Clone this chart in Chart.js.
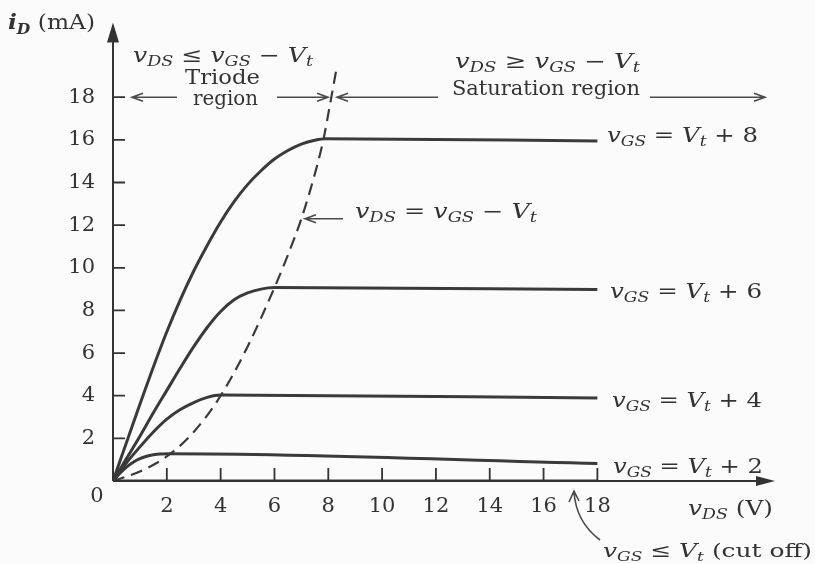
<!DOCTYPE html>
<html>
<head>
<meta charset="utf-8">
<script src="https://cdn.jsdelivr.net/npm/chart.js@4.4.0/dist/chart.umd.min.js"></script>
<style>
  html, body { margin: 0; padding: 0; background: #fbfbfb; }
</style>
</head>
<body>
<canvas id="myChart" width="815" height="564"></canvas>
<script>
// drain characteristic (vDS in V, iD in mA)
const vds8 = [0, 0.5, 1, 1.5, 2, 2.5, 3, 3.5, 4, 4.5, 5, 5.5, 6, 6.5, 7, 7.5, 7.9, 18];
const id8  = [0, 1.8, 3.6, 5.35, 7.0, 8.5, 9.85, 11.05, 12.15, 13.1, 13.9, 14.55, 15.1, 15.5, 15.8, 15.98, 16.05, 15.95];

const vds6 = [0, 0.5, 1, 1.5, 2, 2.5, 3, 3.5, 4, 4.5, 5, 5.5, 6, 18];
const id6  = [0, 1.05, 2.1, 3.2, 4.25, 5.3, 6.3, 7.2, 7.95, 8.5, 8.82, 9.0, 9.07, 8.98];

const vds4 = [0, 0.5, 1, 1.5, 2, 2.5, 3, 3.5, 4, 18];
const id4  = [0, 0.85, 1.6, 2.3, 2.9, 3.35, 3.68, 3.92, 4.03, 3.89];

const vds2 = [0, 0.25, 0.5, 0.75, 1, 1.25, 1.5, 1.75, 2.1, 18];
const id2  = [0, 0.35, 0.65, 0.88, 1.05, 1.16, 1.23, 1.27, 1.28, 0.82];

// boundary vDS = vGS - Vt
const vdsEdge = [0, 1, 2, 3, 4, 5, 6, 6.5, 7, 7.5, 7.8, 8.07, 8.3];
const idEdge  = [0, 0.45, 1.15, 2.3, 4.0, 6.3, 9.07, 10.6, 12.3, 14.4, 15.9, 17.7, 19.3];

// cut off
const vdsOff = [0, 18];
const idOff  = [0, 0];

const xTicks = [2, 4, 6, 8, 10, 12, 14, 16, 18];
const yTicks = [2, 4, 6, 8, 10, 12, 14, 16, 18];
const xMax = 24.6;
const yMax = 21.5;

const ink = '#333';
const serif = '"DejaVu Serif", serif';

function pts(xs, ys) {
  return xs.map(function (v, i) { return { x: v, y: ys[i] }; });
}

function curve(label, xs, ys) {
  return {
    label: label,
    data: pts(xs, ys),
    borderColor: '#3a3a3a',
    borderWidth: 3,
    pointRadius: 0,
    cubicInterpolationMode: 'monotone',
    fill: false
  };
}

// text with italic letters and subscripts, stretched to a width
function rich(ctx, parts, x, y, size, width) {
  function fontFor(st) {
    const pre = st === 'n' ? '' : (st === 'b' || st === 'sb') ? 'italic bold ' : 'italic ';
    const fs = (st === 's' || st === 'sb') ? Math.round(size * 0.68) : size;
    return pre + fs + 'px ' + serif;
  }
  let w = 0;
  parts.forEach(function (p) { ctx.font = fontFor(p[1]); w += ctx.measureText(p[0]).width; });
  const sx = width ? width / w : 1;
  ctx.save();
  ctx.translate(x, y);
  ctx.scale(sx, 1);
  ctx.fillStyle = ink;
  ctx.textAlign = 'left';
  ctx.textBaseline = 'alphabetic';
  let cx = 0;
  parts.forEach(function (p) {
    ctx.font = fontFor(p[1]);
    ctx.fillText(p[0], cx, (p[1] === 's' || p[1] === 'sb') ? size * 0.22 : 0);
    cx += ctx.measureText(p[0]).width;
  });
  ctx.restore();
}

function vgsLabel(n) {
  return [['v', 'i'], ['GS', 's'], [' = ', 'n'], ['V', 'i'], ['t', 's'], [' + ' + n, 'n']];
}

function openArrow(ctx, xFrom, xTo, y) {
  const d = xTo > xFrom ? -1 : 1;
  ctx.beginPath();
  ctx.moveTo(xFrom, y);
  ctx.lineTo(xTo, y);
  ctx.moveTo(xTo + d * 11, y - 4);
  ctx.lineTo(xTo, y);
  ctx.lineTo(xTo + d * 11, y + 4);
  ctx.stroke();
}

const decor = {
  id: 'decor',
  afterDatasetsDraw: function (chart) {
    const ctx = chart.ctx;
    const xs = chart.scales.x;
    const ys = chart.scales.y;
    const x0 = xs.getPixelForValue(0);
    const y0 = ys.getPixelForValue(0);
    const top = chart.chartArea.top;
    const right = chart.chartArea.right;

    ctx.save();
    ctx.strokeStyle = '#333';
    ctx.fillStyle = '#333';
    ctx.lineWidth = 2;

    // axes
    ctx.beginPath();
    ctx.moveTo(x0, y0);
    ctx.lineTo(x0, top + 10);
    ctx.moveTo(x0, y0);
    ctx.lineTo(right - 10, y0);
    ctx.stroke();
    ctx.beginPath();
    ctx.moveTo(x0, top);
    ctx.lineTo(x0 - 6, top + 20);
    ctx.lineTo(x0 + 6, top + 20);
    ctx.closePath();
    ctx.fill();
    ctx.beginPath();
    ctx.moveTo(right, y0);
    ctx.lineTo(right - 19, y0 - 5);
    ctx.lineTo(right - 19, y0 + 5);
    ctx.closePath();
    ctx.fill();

    // inner tick marks
    ctx.lineWidth = 1.8;
    ctx.beginPath();
    yTicks.forEach(function (v) {
      const p = ys.getPixelForValue(v);
      ctx.moveTo(x0, p);
      ctx.lineTo(x0 + 12, p);
    });
    xTicks.forEach(function (v) {
      const p = xs.getPixelForValue(v);
      ctx.moveTo(p, y0);
      ctx.lineTo(p, y0 - 13);
    });
    ctx.stroke();

    // region arrows along the 18 mA line
    const y18 = ys.getPixelForValue(18);
    ctx.lineWidth = 1.6;
    ctx.strokeStyle = '#4a4a4a';
    openArrow(ctx, 177, 132, y18);
    openArrow(ctx, 277, 328, y18);
    openArrow(ctx, 438, 337, y18);
    openArrow(ctx, 650, 765, y18);
    // pointer to the dashed boundary
    openArrow(ctx, 343, 305, ys.getPixelForValue(12.3));

    // cut off pointer
    ctx.beginPath();
    ctx.moveTo(600, 540);
    ctx.quadraticCurveTo(576, 522, 574, 492);
    ctx.moveTo(569, 502);
    ctx.lineTo(574, 491);
    ctx.lineTo(579, 501);
    ctx.stroke();

    // origin label
    ctx.fillStyle = ink;
    ctx.font = '21px ' + serif;
    ctx.textAlign = 'center';
    ctx.textBaseline = 'middle';
    ctx.fillText('0', 97, 497);

    // texts
    rich(ctx, [['i', 'b'], ['D', 'sb'], [' (mA)', 'n']], 8, 29, 21, 87);
    rich(ctx, [['v', 'i'], ['DS', 's'], [' \u2264 ', 'n'], ['v', 'i'], ['GS', 's'], [' \u2212 ', 'n'], ['V', 'i'], ['t', 's']], 133, 62, 20, 180);
    rich(ctx, [['Triode', 'n']], 185, 84, 20, 75);
    rich(ctx, [['region', 'n']], 193, 105, 20, 65);
    rich(ctx, [['v', 'i'], ['DS', 's'], [' \u2265 ', 'n'], ['v', 'i'], ['GS', 's'], [' \u2212 ', 'n'], ['V', 'i'], ['t', 's']], 455, 68, 20, 185);
    rich(ctx, [['Saturation region', 'n']], 452, 95, 20, 188);
    rich(ctx, [['v', 'i'], ['DS', 's'], [' = ', 'n'], ['v', 'i'], ['GS', 's'], [' \u2212 ', 'n'], ['V', 'i'], ['t', 's']], 355, 218, 20, 182);
    rich(ctx, vgsLabel(8), 607, 142, 20, 151);
    rich(ctx, vgsLabel(6), 610, 298, 20, 152);
    rich(ctx, vgsLabel(4), 612, 407, 20, 150);
    rich(ctx, vgsLabel(2), 613, 473, 20, 150);
    rich(ctx, [['v', 'i'], ['DS', 's'], [' (V)', 'n']], 688, 515, 20, 85);
    rich(ctx, [['v', 'i'], ['GS', 's'], [' \u2264 ', 'n'], ['V', 'i'], ['t', 's'], [' (cut off)', 'n']], 603, 557, 19, 209);

    ctx.restore();
  }
};

const data = {
  datasets: [
    curve('vGS = Vt + 8', vds8, id8),
    curve('vGS = Vt + 6', vds6, id6),
    curve('vGS = Vt + 4', vds4, id4),
    curve('vGS = Vt + 2', vds2, id2),
    {
      label: 'vDS = vGS - Vt',
      data: pts(vdsEdge, idEdge),
      borderColor: '#3a3a3a',
      borderWidth: 2.2,
      borderDash: [12, 7],
      pointRadius: 0,
      cubicInterpolationMode: 'monotone',
      fill: false
    },
    {
      label: 'vGS <= Vt (cut off)',
      data: pts(vdsOff, idOff),
      borderColor: '#3a3a3a',
      borderWidth: 3,
      pointRadius: 0,
      fill: false
    }
  ]
};

const config = {
  type: 'line',
  data: data,
  options: {
    responsive: false,
    animation: false,
    devicePixelRatio: 1,
    layout: { padding: { top: 12, right: 40, left: 0, bottom: 0 } },
    plugins: {
      legend: { display: false },
      tooltip: { enabled: false }
    },
    scales: {
      x: {
        type: 'linear',
        min: 0,
        max: xMax,
        afterFit: function (s) { s.height = 83; },
        afterBuildTicks: function (s) { s.ticks = xTicks.map(function (v) { return { value: v }; }); },
        grid: { display: false },
        border: { display: false },
        ticks: { color: ink, font: { family: serif, size: 21 }, padding: 5, maxRotation: 0, autoSkip: false }
      },
      y: {
        type: 'linear',
        min: 0,
        max: yMax,
        afterFit: function (s) { s.width = 113; },
        afterBuildTicks: function (s) { s.ticks = yTicks.map(function (v) { return { value: v }; }); },
        grid: { display: false },
        border: { display: false },
        ticks: { color: ink, font: { family: serif, size: 21 }, padding: 10 }
      }
    }
  },
  plugins: [decor]
};

new Chart(document.getElementById('myChart'), config);
</script>
</body>
</html>
